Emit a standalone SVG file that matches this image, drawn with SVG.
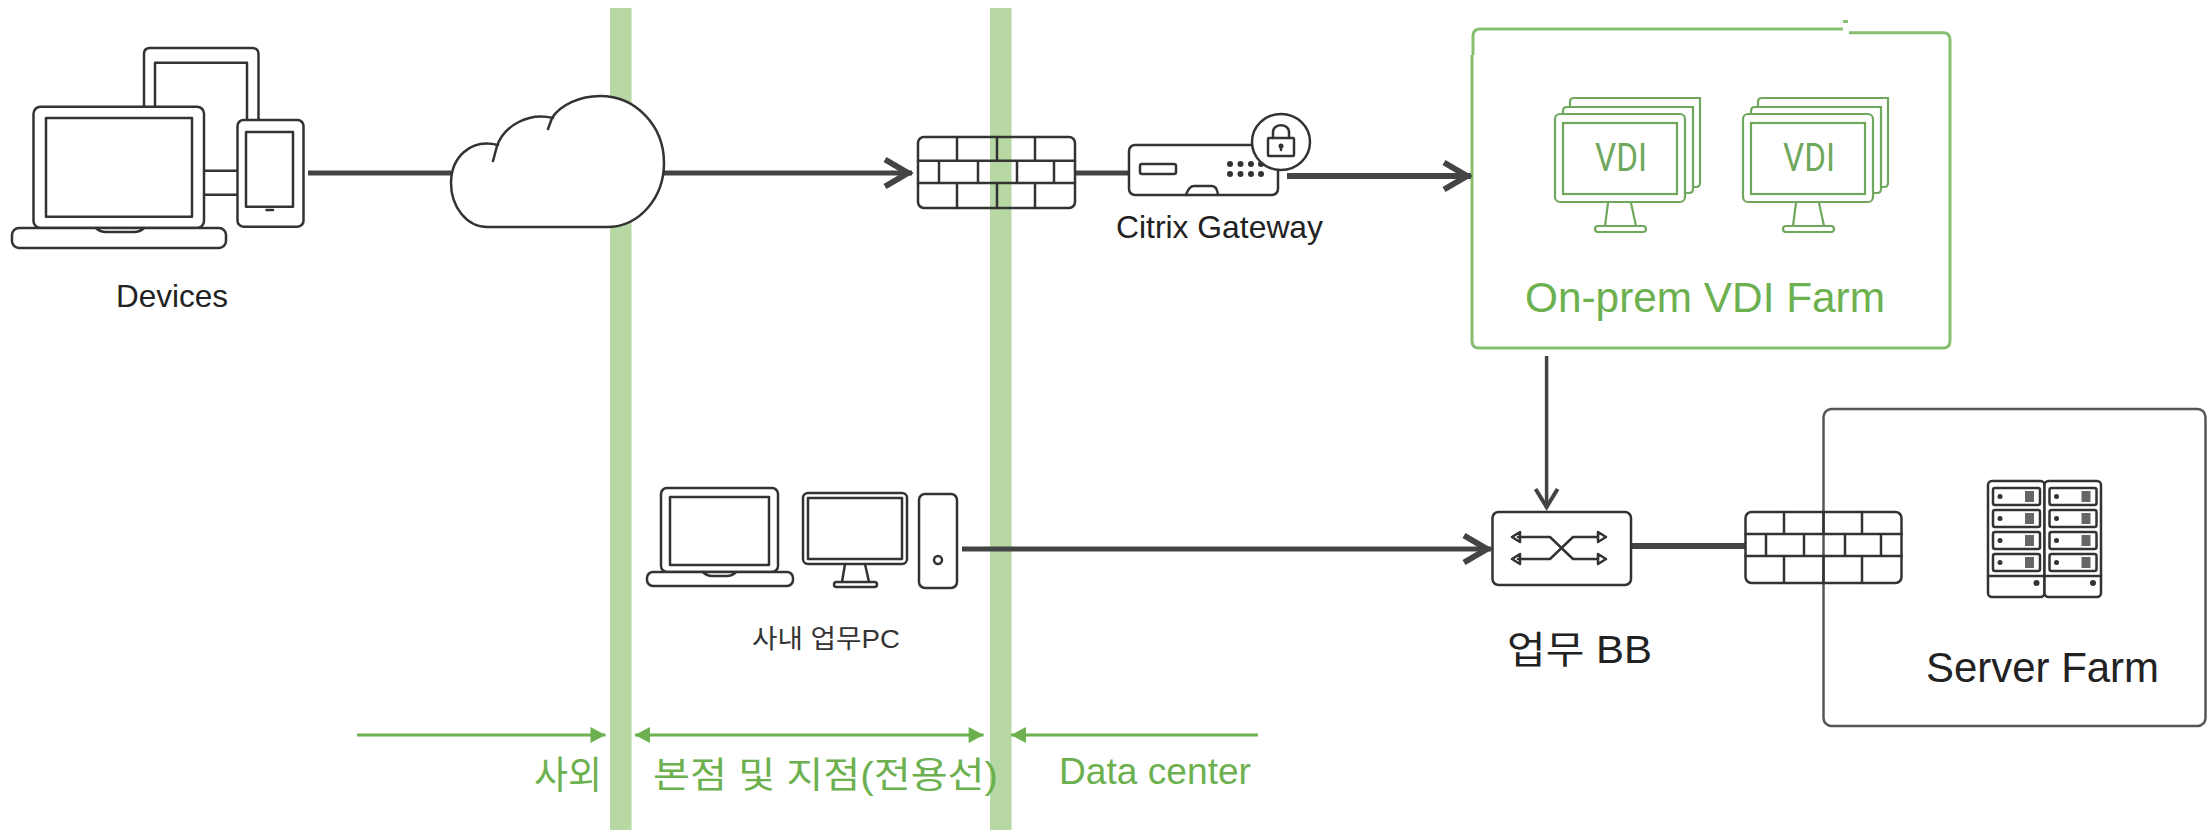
<svg xmlns="http://www.w3.org/2000/svg" xmlns:xlink="http://www.w3.org/1999/xlink" width="2207" height="830" viewBox="0 0 2207 830">
<style>
text{font-family:"Liberation Sans","Noto Sans CJK KR",sans-serif}
.k{fill:#fff;stroke:#333;stroke-width:2.5;stroke-linejoin:round}
.n{fill:none;stroke:#333;stroke-width:2.5;stroke-linejoin:round;stroke-linecap:round}
.w{fill:#fff;stroke:none}
.g{fill:#fff;stroke:#6fa85c;stroke-width:2.2}
.gn{fill:none;stroke:#6fa85c;stroke-width:2.2;stroke-linecap:round}
.bar{fill:#b7d7a3}
.c{fill:none;stroke:#444}
.z{fill:none;stroke:#6cb04f;stroke-width:3}
.tk{fill:#222}
.tg{fill:#6cb04f}
.vd{font-family:Roboto,"Liberation Sans",sans-serif;font-weight:400;font-size:38px;fill:#6fa85c}
.d{fill:#333}
</style>
<defs>
<marker id="chev" markerUnits="userSpaceOnUse" markerWidth="36" markerHeight="36" refX="31" refY="18" orient="auto"><path d="M4 4.5 L27 18 L4 31.5" fill="none" stroke="#444" stroke-width="6"/></marker>
<marker id="chevs" markerUnits="userSpaceOnUse" markerWidth="36" markerHeight="36" refX="28" refY="18" orient="auto"><path d="M9 7 L27 18 L9 29" fill="none" stroke="#444" stroke-width="4"/></marker>
<marker id="tri" markerUnits="userSpaceOnUse" markerWidth="20" markerHeight="20" refX="16" refY="10" orient="auto-start-reverse"><path d="M1 2 L16 10 L1 18 Z" fill="#6cb04f"/></marker>
<g id="mon">
<path class="g" d="M1570 187 H1696 Q1700 187 1700 183 V98 H1574 Q1570 98 1570 102 Z"/>
<path class="g" d="M1563 193 H1689 Q1693 193 1693 189 V107 H1567 Q1563 107 1563 111 Z"/>
<rect class="g" x="1555" y="114" width="130" height="88" rx="5"/>
<rect class="g" x="1563" y="123" width="114" height="71"/>
<path class="gn" d="M1608 203 L1605 226 M1631 203 L1636 226"/>
<rect class="g" x="1595" y="226" width="51" height="6" rx="3"/>
<text class="vd" x="1595" y="171" textLength="52" lengthAdjust="spacingAndGlyphs">VDI</text>
</g>
<g id="srv">
<rect class="k" x="1988" y="481" width="56.5" height="116" rx="4"/>
<path class="n" d="M1988 576 H2044.5"/>
<circle class="d" cx="2036.5" cy="583" r="3"/>
<g id="un">
<rect class="k" x="1993" y="488" width="47" height="17" rx="2" stroke-width="3"/>
<circle class="d" cx="2000" cy="496.500" r="2.500"/>
<rect x="2025" y="491" width="9" height="11" fill="#666"/>
</g>
<use href="#un" y="22"/><use href="#un" y="44"/><use href="#un" y="66"/>
</g>
</defs>

<g id="zones">
<rect class="bar" x="610" y="8" width="21.500" height="822"/>
<rect class="bar" x="990" y="8" width="21.500" height="822"/>
</g>

<g id="server-farm">
<rect x="1823.500" y="409" width="382" height="317" rx="8" fill="#fff" stroke="#555" stroke-width="2.500"/>
<use href="#srv"/>
<use href="#srv" x="56.500"/>
<text class="tk" x="1926" y="682" font-size="42" textLength="233" lengthAdjust="spacingAndGlyphs">Server Farm</text>
</g>

<g id="vdi-farm">
<path d="M1473 55 V36 Q1473 29 1480 29 H1843 M1849 32.700 H1943 Q1950 32.700 1950 40 V341 Q1950 348 1943 348 H1479 Q1472 348 1472 341 V55" fill="#fff" stroke="#85bf6f" stroke-width="3"/>
<path d="M1843 21.500 H1848" stroke="#85bf6f" stroke-width="3"/>
<use href="#mon"/>
<use href="#mon" x="188"/>
<text class="tg" x="1525" y="312" font-size="42" textLength="360" lengthAdjust="spacingAndGlyphs">On-prem VDI Farm</text>
</g>

<g id="connectors">
<path class="c" stroke-width="5" d="M308 173 H451"/>
<path class="c" stroke-width="5" marker-end="url(#chev)" d="M664 173 H912"/>
<path class="c" stroke-width="5" d="M1075 173 H1129"/>
<path class="c" stroke-width="6" marker-end="url(#chev)" d="M1287 176 H1471"/>
<path class="c" stroke-width="3.500" marker-end="url(#chevs)" d="M1546.600 356 V508"/>
<path class="c" stroke-width="5" marker-end="url(#chev)" d="M962 549 H1491"/>
<path class="c" stroke-width="6" d="M1631 546 H1746"/>
<path class="z" marker-end="url(#tri)" d="M357 735 H605.500"/>
<path class="z" marker-start="url(#tri)" marker-end="url(#tri)" d="M635 735 H983.600"/>
<path class="z" marker-end="url(#tri)" d="M1258 735 H1011"/>
</g>

<g id="devices">
<path class="n" d="M144 107 V54 Q144 48 150 48 H252 Q258.500 48 258.500 54 V120 M155 107 V62.700 H247 V120"/>
<path class="n" d="M204 170.700 H237.500 M204 194.700 H237.500"/>
<rect class="k" x="33.500" y="106.700" width="170.500" height="121.300" rx="7"/>
<rect class="k" x="46" y="118" width="146" height="98.700" stroke-width="3"/>
<rect class="k" x="12" y="228" width="214" height="20" rx="7"/>
<path class="n" d="M96 228 Q100 232 106 232 H134 Q140 232 144 228"/>
<rect class="k" x="237.500" y="120" width="66" height="106.700" rx="6"/>
<rect class="k" x="246" y="132" width="47" height="74.700"/>
<path class="n" d="M266.500 210 H273"/>
<text class="tk" x="116" y="306.700" font-size="31.500" textLength="112" lengthAdjust="spacingAndGlyphs">Devices</text>
</g>

<g id="cloud">
<path class="w" d="M487 227 H607 C640 227 664 197 664 163 C664 126 636 96 600 96 C580 96 560 105 552 118 C528 112 504 126 498 145 C470 138 451 158 451 183 C451 207 467 227 487 227 Z"/>
<path class="n" d="M487 227 H607 C640 227 664 197 664 163 C664 126 636 96 600 96 C580 96 560 105 552 118 L548 129 M553 118 C528 112 504 126 497 146 L493 161 M498 145 C470 138 451 158 451 183 C451 207 467 227 487 227"/>
</g>

<g id="firewall-1">
<rect class="n" x="918" y="137" width="157" height="71" rx="6"/>
<path class="n" d="M918 160.700 H1075 M918 183 H1075 M957 137 V160.700 M997 137 V160.700 M1035 137 V160.700 M939 160.700 V183 M978 160.700 V183 M1017 160.700 V183 M1054 160.700 V183 M957 183 V208 M997 183 V208 M1035 183 V208"/>
</g>

<g id="citrix-gateway">
<rect class="k" x="1129" y="145" width="149" height="50" rx="6"/>
<rect class="n" x="1140" y="164" width="36" height="10" rx="2"/>
<path class="n" d="M1186 195 Q1189 186 1194 186 H1212 Q1217 186 1218 195"/>
<g class="d">
<circle cx="1230" cy="164" r="3"/><circle cx="1240.500" cy="164" r="3"/><circle cx="1251" cy="164" r="3"/><circle cx="1261" cy="164" r="3"/>
<circle cx="1230" cy="174" r="3"/><circle cx="1240.500" cy="174" r="3"/><circle cx="1251" cy="174" r="3"/><circle cx="1261" cy="174" r="3"/>
</g>
<ellipse class="k" cx="1281" cy="142" rx="29" ry="28"/>
<rect class="n" x="1268" y="138" width="26" height="18" rx="1"/>
<path class="n" d="M1273 138 V132 C1273 123 1289 123 1289 132 V138"/>
<circle class="d" cx="1281" cy="146" r="2.500"/><path class="n" d="M1281 146 V150"/>
<text class="tk" x="1116" y="238" font-size="32" textLength="207" lengthAdjust="spacingAndGlyphs">Citrix Gateway</text>
</g>

<g id="office-pc">
<rect class="k" x="661" y="488" width="117" height="84" rx="6"/>
<rect class="k" x="670" y="497" width="99" height="68" stroke-width="3"/>
<rect class="k" x="647" y="572" width="146" height="14" rx="6"/>
<path class="n" d="M703 572 Q707 576 712 576 H727 Q732 576 736 572"/>
<rect class="k" x="803" y="493" width="104" height="71" rx="5"/>
<rect class="k" x="808" y="498" width="94" height="61"/>
<path class="n" d="M845 564 L842 582 M865 564 L869 582"/>
<rect class="k" x="834" y="582" width="43" height="5" rx="2.500"/>
<rect class="k" x="919" y="494" width="38" height="94" rx="6"/>
<circle class="n" cx="938" cy="560" r="4"/>
<text x="752" y="648" font-size="26" fill="#333" textLength="148" lengthAdjust="spacingAndGlyphs">사내 업무PC</text>
</g>

<g id="switch-bb">
<rect class="k" x="1492.500" y="512" width="138.500" height="73" rx="6"/>
<path class="n" d="M1518 537 H1550 L1573 559 H1598 M1518 559 H1550 L1573 537 H1598"/>
<path class="n" d="M1520 532 L1512 537 L1520 542 Z M1520 554 L1512 559 L1520 564 Z M1598 532 L1606 537 L1598 542 Z M1598 554 L1606 559 L1598 564 Z"/>
<text class="tk" x="1507" y="663" font-size="38" textLength="145" lengthAdjust="spacingAndGlyphs">업무 BB</text>
</g>

<g id="firewall-2">
<rect class="n" x="1745.500" y="512" width="156" height="71" rx="6"/>
<path class="n" d="M1745.500 534 H1901.500 M1745.500 556 H1901.500 M1784 512 V534 M1823.500 512 V534 M1862 512 V534 M1766 534 V556 M1804 534 V556 M1845 534 V556 M1881 534 V556 M1784 556 V583 M1823.500 556 V583 M1862 556 V583"/>
</g>

<g id="zone-labels">
<text class="tg" x="534" y="788" font-size="38" textLength="68" lengthAdjust="spacingAndGlyphs">사외</text>
<text class="tg" x="653" y="788" font-size="36" textLength="345" lengthAdjust="spacingAndGlyphs">본점 및 지점(전용선)</text>
<text class="tg" x="1059" y="784" font-size="37" textLength="192" lengthAdjust="spacingAndGlyphs">Data center</text>
</g>
</svg>
